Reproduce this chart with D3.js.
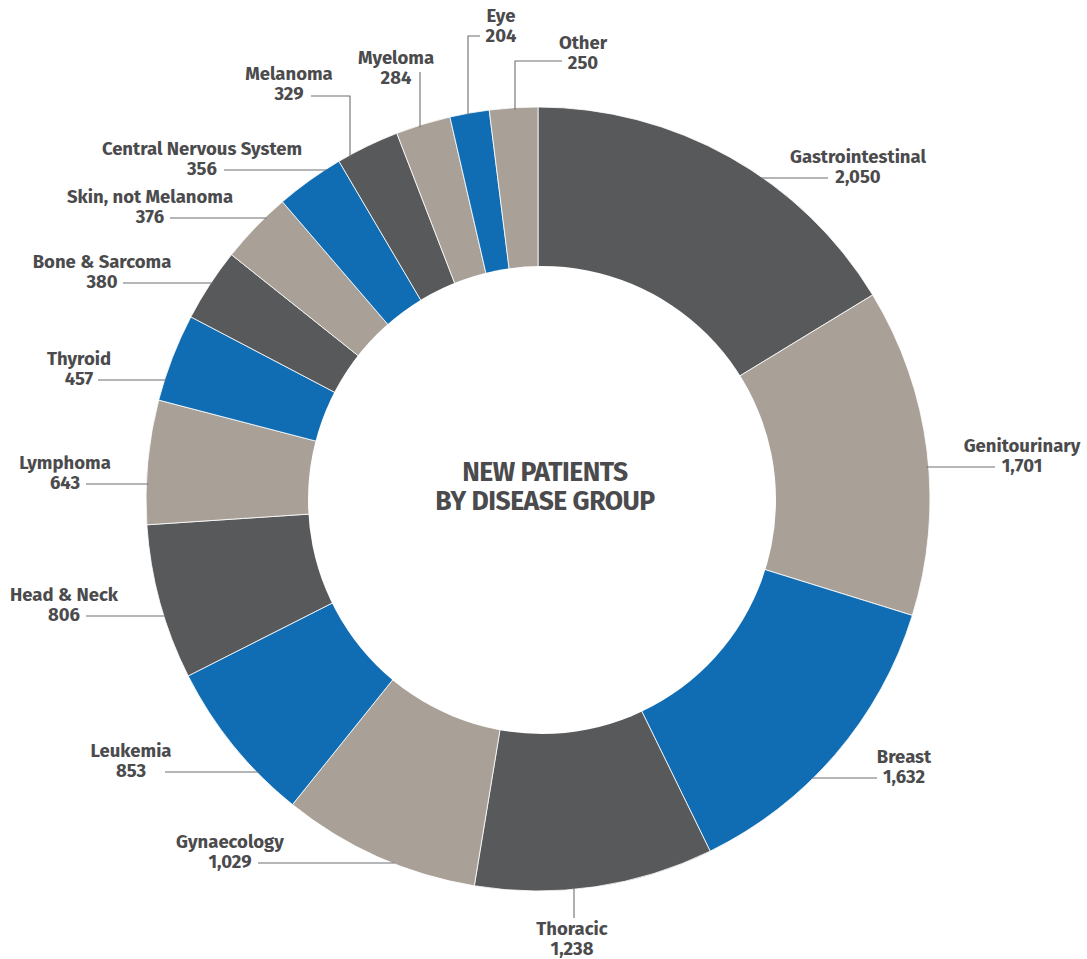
<!DOCTYPE html>
<html>
<head>
<meta charset="utf-8">
<script src="https://cdn.jsdelivr.net/npm/d3@7"></script>
<style>
  body { margin: 0; background: #fff; }
  .lbl { font-family: "Fira Sans", Roboto, sans-serif; font-weight: 700; font-size: 18.5px; fill: #4b4b4d; }
  .title { font-family: "Fira Sans", Roboto, sans-serif; font-weight: 700; font-size: 26.5px; fill: #4b4b4d; letter-spacing: -0.5px; }
</style>
</head>
<body>
<div class="container"></div>
<script>
// data, clockwise from 12 o'clock
var groups = ["Gastrointestinal", "Genitourinary", "Breast", "Thoracic", "Gynaecology", "Leukemia",
  "Head & Neck", "Lymphoma", "Thyroid", "Bone & Sarcoma", "Skin, not Melanoma", "Central Nervous System",
  "Melanoma", "Myeloma", "Eye", "Other"];
var patients = [2050, 1701, 1632, 1238, 1029, 853, 806, 643, 457, 380, 376, 356, 329, 284, 204, 250];
var colourKeys = ["dark", "taupe", "blue", "dark", "taupe", "blue", "dark", "taupe", "blue",
  "dark", "taupe", "blue", "dark", "taupe", "blue", "taupe"];
var titleLines = ["NEW PATIENTS", "BY DISEASE GROUP"];

// svg container
var svgWidth = 1087;
var svgHeight = 959;
var cx = 538, cy = 499;
var outerR = 392, innerR = 234;

var colour = d3.scaleOrdinal()
  .domain(["dark", "taupe", "blue"])
  .range(["#58595b", "#a9a097", "#106db3"]);

// label placement: text centre x, name baseline y, leader spec
// h: horizontal line from x0 to the ring, v: vertical line down to the ring (optionally with a short elbow)
var labelLayout = [
  {x: 858, y: 163, leader: "h", x0: 828},
  {x: 1022, y: 452, leader: "h", x0: 995},
  {x: 904, y: 763, leader: "h", x0: 877},
  {x: 572, y: 935, leader: "up", lx: 574, y0: 918},
  {x: 230, y: 848, leader: "h", x0: 258},
  {x: 131, y: 757, leader: "h", x0: 165},
  {x: 64, y: 601, leader: "h", x0: 86},
  {x: 65, y: 469, leader: "h", x0: 86},
  {x: 79, y: 365, leader: "h", x0: 98},
  {x: 102, y: 268, leader: "h", x0: 123},
  {x: 150, y: 203, leader: "h", x0: 170},
  {x: 202, y: 155, leader: "h", x0: 224},
  {x: 289, y: 80, leader: "v", lx: 350, ex: 311, ey: 96},
  {x: 396, y: 64, leader: "v", lx: 420, ex: 420, ey: 72},
  {x: 501, y: 22, leader: "v", lx: 468, ex: 480, ey: 36},
  {x: 583, y: 49, leader: "v", lx: 515, ex: 562, ey: 61}
];

var svg = d3.select(".container")
  .append("svg")
  .attr("width", svgWidth)
  .attr("height", svgHeight);

var rows = groups.map(function(g, i) {
  return {name: g, value: patients[i], key: colourKeys[i], pos: labelLayout[i]};
});

var pie = d3.pie()
  .sort(null)
  .value(d => d.value);

var arc = d3.arc()
  .innerRadius(0)
  .outerRadius(outerR);

var chartGroup = svg.append("g")
  .attr("transform", `translate(${cx}, ${cy})`);

chartGroup.selectAll("path")
  .data(pie(rows))
  .enter()
  .append("path")
  .attr("d", arc)
  .attr("fill", d => colour(d.data.key))
  .attr("stroke", "#fff")
  .attr("stroke-width", 0.8);

// hole (sits a touch right of the ring centre in the original)
chartGroup.append("circle")
  .attr("cx", 4)
  .attr("cy", 1)
  .attr("r", innerR)
  .attr("fill", "#fff");

// leader lines
var lineGroup = svg.append("g")
  .attr("fill", "none")
  .attr("stroke", "#6d6e70")
  .attr("stroke-width", 1.1);

rows.forEach(function(d) {
  var p = d.pos;
  var pts;
  if (p.leader === "h") {
    var ly = p.y + 15;
    var dx = Math.sqrt(outerR * outerR - (ly - cy) * (ly - cy)) - 2;
    var xe = p.x0 < cx ? cx - dx : cx + dx;
    pts = [[p.x0, ly], [xe, ly]];
  } else if (p.leader === "up") {
    var ye = cy + Math.sqrt(outerR * outerR - (p.lx - cx) * (p.lx - cx)) - 2;
    pts = [[p.lx, p.y0], [p.lx, ye]];
  } else {
    var yv = cy - Math.sqrt(outerR * outerR - (p.lx - cx) * (p.lx - cx)) + 2;
    pts = [[p.ex, p.ey], [p.lx, p.ey], [p.lx, yv]];
  }
  lineGroup.append("path").attr("d", d3.line()(pts));
});

// labels
var fmt = d3.format(",");
var labels = svg.append("g").selectAll("text")
  .data(rows)
  .enter()
  .append("text")
  .attr("class", "lbl")
  .attr("text-anchor", "middle");

labels.append("tspan")
  .attr("x", d => d.pos.x)
  .attr("y", d => d.pos.y)
  .text(d => d.name);

labels.append("tspan")
  .attr("x", d => d.pos.x)
  .attr("y", d => d.pos.y + 20)
  .text(d => fmt(d.value));

// centre title
svg.append("text")
  .attr("class", "title")
  .attr("text-anchor", "middle")
  .selectAll("tspan")
  .data(titleLines)
  .enter()
  .append("tspan")
  .attr("x", cx + 7)
  .attr("y", (d, i) => 481 + i * 29)
  .text(d => d);
</script>
</body>
</html>
